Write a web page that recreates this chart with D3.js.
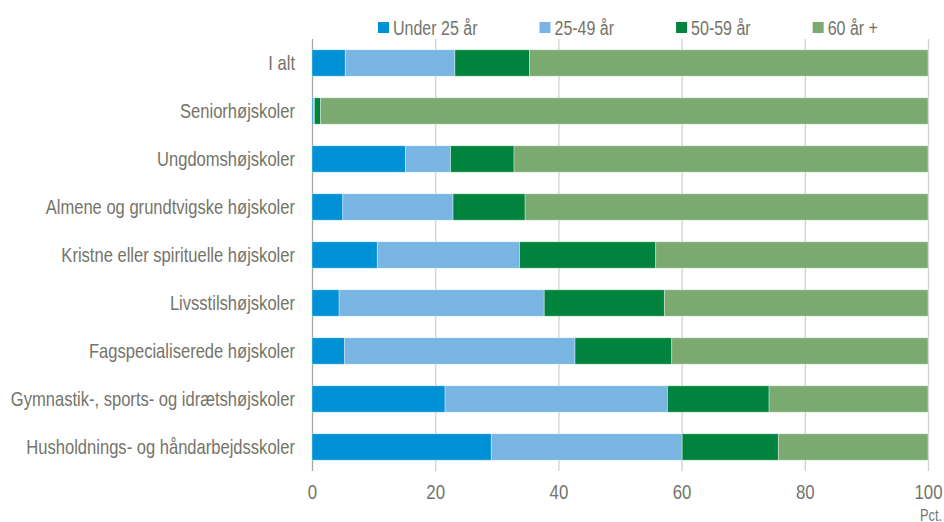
<!DOCTYPE html>
<html>
<head>
<meta charset="utf-8">
<script src="https://cdn.jsdelivr.net/npm/d3@7"></script>
<style>
	html, body { margin: 0; padding: 0; background: #fff; }
	svg { display: block; font-family: "Liberation Sans", Arial, sans-serif; }
</style>
</head>
<body>
<div id="chart"></div>
<script>
// categories, top to bottom
const categories = [
	'I alt',
	'Seniorhøjskoler',
	'Ungdomshøjskoler',
	'Almene og grundtvigske højskoler',
	'Kristne eller spirituelle højskoler',
	'Livsstilshøjskoler',
	'Fagspecialiserede højskoler',
	'Gymnastik-, sports- og idrætshøjskoler',
	'Husholdnings- og håndarbejdsskoler'
];

const seriesNames = ['Under 25 år', '25-49 år', '50-59 år', '60 år +'];

// pct. per age group, same order as categories
const under25 = [5.4, 0.2, 15.2, 5.0, 10.6, 4.4, 5.3, 21.6, 29.1];
const age25to49 = [17.8, 0.2, 7.3, 17.9, 23.1, 33.3, 37.4, 36.1, 31.0];
const age50to59 = [12.1, 1.0, 10.3, 11.7, 22.1, 19.5, 15.7, 16.5, 15.6];
const age60plus = [64.7, 98.6, 67.2, 65.4, 44.2, 42.8, 41.6, 25.8, 24.3];

const xTicks = [0, 20, 40, 60, 80, 100];

const colors = ['#0090d6', '#78b5e3', '#00843d', '#7aaa70'];
const textColor = '#74746a';
const narrow = 'scale(0.8,1)'; // no narrow font installed, squeeze Liberation Sans

const width = 944, height = 522;
const margins = { left: 312, right: 16, top: 39, bottom: 51 };

const svg = d3.select('#chart').append('svg')
	.attr('width', width)
	.attr('height', height);

const rows = categories.map(function (c, i) {
	return { cat: c, s0: under25[i], s1: age25to49[i], s2: age50to59[i], s3: age60plus[i] };
});

const stack = d3.stack().keys(['s0', 's1', 's2', 's3']);
const layers = stack(rows);

const x = d3.scaleLinear()
	.domain([0, 100])
	.range([margins.left, width - margins.right]);

const y = d3.scaleBand()
	.domain(categories)
	.range([margins.top, height - margins.bottom])
	.paddingInner(0.45)
	.paddingOuter(0.225);

// gridlines
svg.append('g')
	.selectAll('line')
	.data(xTicks)
	.enter()
	.append('line')
	.attr('x1', d => x(d) + 0.5)
	.attr('x2', d => x(d) + 0.5)
	.attr('y1', margins.top)
	.attr('y2', height - margins.bottom)
	.attr('stroke', d => d === 0 ? '#a9a99e' : '#d2d2ca')
	.attr('stroke-width', 1.3);

// bars
svg.append('g')
	.selectAll('g')
	.data(layers)
	.enter()
	.append('g')
	.attr('fill', (d, i) => colors[i])
	.selectAll('rect')
	.data(d => d)
	.enter()
	.append('rect')
	.attr('x', d => x(d[0]))
	.attr('width', d => x(d[1]) - x(d[0]))
	.attr('y', d => y(d.data.cat))
	.attr('height', y.bandwidth())
	.attr('stroke', '#ffffff')
	.attr('stroke-opacity', 0.45)
	.attr('stroke-width', 0.8);

// category labels
const yAxis = svg.append('g')
	.attr('transform', 'translate(' + (margins.left - 17) + ',0)')
	.call(d3.axisLeft(y).tickSize(0).tickPadding(0));
yAxis.select('.domain').remove();
yAxis.selectAll('text')
	.attr('fill', textColor)
	.attr('transform', narrow)
	.style('font-size', '20.7px')
	.style('font-family', null);

// x axis labels
const xAxis = svg.append('g')
	.attr('transform', 'translate(0,' + (height - margins.bottom) + ')')
	.call(d3.axisBottom(x).tickValues(xTicks).tickSize(0).tickPadding(13));
xAxis.select('.domain').remove();
xAxis.selectAll('text')
	.attr('fill', textColor)
	.attr('transform', narrow)
	.style('font-size', '21px')
	.style('font-family', null);

svg.append('g')
	.attr('transform', 'translate(' + (width - 2) + ',' + (height - 1) + ')')
	.append('text')
	.attr('transform', narrow)
	.attr('text-anchor', 'end')
	.attr('fill', textColor)
	.style('font-size', '16px')
	.text('Pct.');

// legend
const legend = svg.append('g').attr('transform', 'translate(378,22)');
let lx = 0;
seriesNames.forEach(function (name, i) {
	const item = legend.append('g').attr('transform', 'translate(' + lx + ',0)');
	item.append('rect')
		.attr('width', 11)
		.attr('height', 11)
		.attr('fill', colors[i]);
	const t = item.append('g')
		.attr('transform', 'translate(15,0)')
		.append('text')
		.attr('transform', narrow)
		.attr('y', 5.5)
		.attr('dy', '0.35em')
		.attr('fill', textColor)
		.style('font-size', '20px')
		.text(name);
	lx += 15 + t.node().getComputedTextLength() * 0.8 + 62;
});
</script>
</body>
</html>
